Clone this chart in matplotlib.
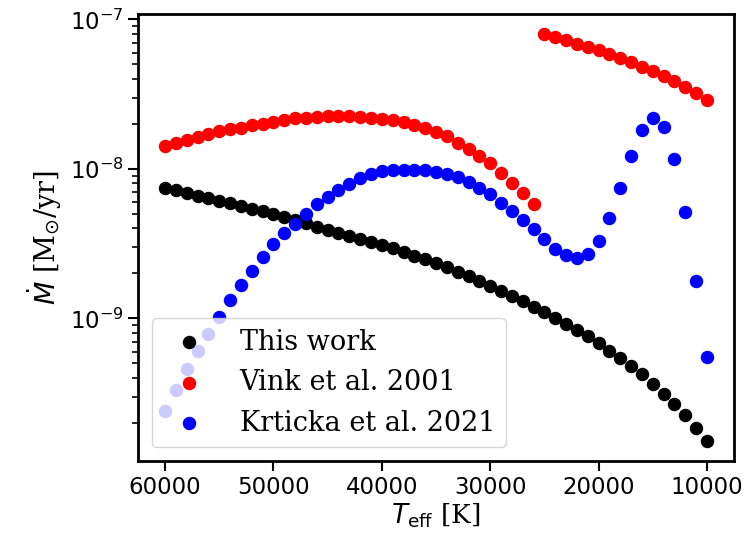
import numpy as np
import matplotlib
matplotlib.use("Agg")
import matplotlib.pyplot as plt

# effective temperature grid [K]
teff = np.arange(60000, 9000, -1000)

# mass-loss rates in units of 1e-9 Msun/yr
mdot_this_work = np.array([
    7.46, 7.18, 6.89, 6.62, 6.35, 6.11, 5.87, 5.64, 5.42, 5.20,
    5.00, 4.76, 4.53, 4.32, 4.10, 3.91, 3.73, 3.56, 3.40, 3.25,
    3.10, 2.94, 2.78, 2.62, 2.48, 2.35, 2.19, 2.04, 1.91, 1.78,
    1.65, 1.53, 1.41, 1.30, 1.20, 1.10, 1.01, 0.923, 0.838, 0.759,
    0.685, 0.607, 0.547, 0.481, 0.426, 0.366, 0.314, 0.268, 0.226, 0.186,
    0.152])

# Vink et al. 2001: hot side (60000-26000 K) and cool side (25000-10000 K)
mdot_vink = np.array([
    14.3, 14.9, 15.6, 16.4, 17.1, 17.8, 18.4, 18.9, 19.6, 20.1,
    20.6, 21.3, 21.8, 22.0, 22.3, 22.5, 22.5, 22.5, 22.3, 22.0,
    21.6, 21.1, 20.5, 19.7, 18.8, 17.7, 16.5, 14.9, 13.6, 12.2,
    11.0, 9.45, 8.09, 6.94, 5.80,
    79.6, 76.4, 72.6, 68.9, 65.8, 62.8, 59.0, 55.5, 52.0, 48.3,
    45.3, 41.9, 38.8, 35.3, 32.2, 28.8])

mdot_krticka = np.array([
    0.240, 0.331, 0.457, 0.607, 0.791, 1.02, 1.32, 1.67, 2.08, 2.57,
    3.13, 3.75, 4.31, 5.02, 5.81, 6.50, 7.21, 7.98, 8.67, 9.22,
    9.62, 9.77, 9.85, 9.89, 9.80, 9.59, 9.30, 8.84, 8.22, 7.50,
    6.77, 5.95, 5.24, 4.56, 3.95, 3.39, 2.93, 2.65, 2.55, 2.69,
    3.30, 4.66, 7.46, 12.2, 18.2, 21.8, 19.1, 11.7, 5.15, 1.78,
    0.552])

fig = plt.figure(figsize=(7.56, 5.36), dpi=100)
ax = fig.add_axes([0.1825, 0.140, 0.7885, 0.834])

ms = 75
ax.scatter(teff, mdot_this_work * 1e-9, s=ms, color='black', label='This work')
ax.scatter(teff, mdot_vink * 1e-9, s=ms, color='red', label='Vink et al. 2001')
ax.scatter(teff, mdot_krticka * 1e-9, s=ms, color='blue', label='Krticka et al. 2021')

ax.set_yscale('log')
ax.invert_xaxis()

ax.set_xlabel(r'$T_{\rm eff}$ [K]', fontsize=19, family='DejaVu Serif', labelpad=2)
ax.set_ylabel(r'$\dot{M}$ [M$_{\odot}$/yr]', fontsize=19.5, family='DejaVu Serif', labelpad=4)
ax.tick_params(which='major', labelsize=16.5, length=7, width=1.5)
ax.tick_params(which='minor', length=4.5, width=1.2)
for sp in ax.spines.values():
    sp.set_linewidth(2)

ax.legend(loc='lower left', prop={'family': 'DejaVu Serif', 'size': 19.5},
          scatterpoints=1, handletextpad=0.85, labelspacing=0.5)

fig.savefig('out.png', dpi=100)
